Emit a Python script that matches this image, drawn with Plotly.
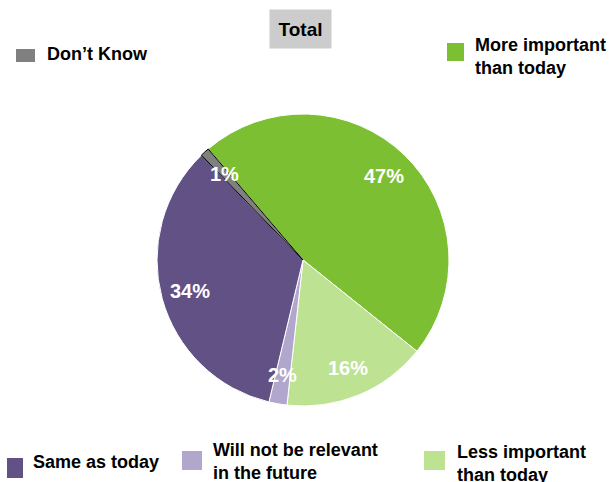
import math
import plotly.graph_objects as go

# ---- data ----
categories = ["More important<br>than today", "Less important<br>than today",
              "Will not be relevant<br>in the future", "Same as today", "Don\u2019t Know"]
values = [47, 16, 2, 34, 1]
colors = ["#7DBF32", "#BCE292", "#B1A6CC", "#615185", "#808080"]
edge_colors = ["white", "white", "white", "white", "black"]
title_text = "Total"

W, H = 613, 482
CX, CY, R = 303, 260, 146
ROTATION = -40.5
FONT = "Liberation Sans, Arial, sans-serif"

fig = go.Figure(go.Pie(
    labels=categories,
    values=values,
    sort=False,
    direction="clockwise",
    rotation=ROTATION,
    marker=dict(colors=colors, line=dict(color=edge_colors, width=1)),
    textinfo="none",
    hoverinfo="label+percent",
    showlegend=False,
    domain=dict(x=[(CX - R) / W, (CX + R) / W], y=[1 - (CY + R) / H, 1 - (CY - R) / H]),
))

annotations = []
# slice labels at mid-angles derived from the values
total = sum(values)
ang = ROTATION
for v in values:
    span = 360 * v / total
    mid = math.radians(ang + span / 2)
    ang += span
    px = CX + 0.8 * R * math.sin(mid)
    py = CY - 0.8 * R * math.cos(mid)
    annotations.append(dict(
        x=px / W, y=1 - py / H, xref="paper", yref="paper",
        text=f"<b>{v}%</b>", showarrow=False, xanchor="center", yanchor="middle",
        font=dict(family=FONT, size=20, color="white"),
    ))

# title box
annotations.append(dict(
    x=300.5 / W, y=1 - 29 / H, xref="paper", yref="paper",
    text=f"<b>{title_text}</b>", showarrow=False, xanchor="center", yanchor="middle",
    font=dict(family=FONT, size=19, color="black"),
    bgcolor="#CCCCCC", width=57, height=34, borderpad=2,
))

# custom legend: (square box px, text left px, text center y px) in category order
legend_layout = [
    ((447, 43, 464, 61), 473, 56),       # More important
    ((424, 451, 445, 470), 455, 463),    # Less important
    ((182, 451, 202, 470), 211, 461.5),  # Will not be relevant
    ((7, 458, 23, 478), 31, 462),        # Same as today
    ((16, 49, 35, 62), 45, 54),          # Don't Know
]
shapes = []
for cat, col, (box, tx, ty) in zip(categories, colors, legend_layout):
    x0, y0, x1, y1 = box
    shapes.append(dict(type="rect", xref="paper", yref="paper",
                       x0=x0 / W, x1=x1 / W, y0=1 - y1 / H, y1=1 - y0 / H,
                       fillcolor=col, line=dict(width=0)))
    annotations.append(dict(
        x=tx / W, y=1 - ty / H, xref="paper", yref="paper",
        text=f"<b>{cat}</b>", showarrow=False, xanchor="left", yanchor="middle",
        align="left", font=dict(family=FONT, size=18, color="black"),
    ))

fig.update_layout(
    width=W, height=H,
    margin=dict(l=0, r=0, t=0, b=0),
    paper_bgcolor="white", plot_bgcolor="white",
    annotations=annotations, shapes=shapes,
)

fig.write_html("out.html", config={"displayModeBar": False},
               post_script="document.body.style.margin='0';document.body.style.overflow='hidden';")
